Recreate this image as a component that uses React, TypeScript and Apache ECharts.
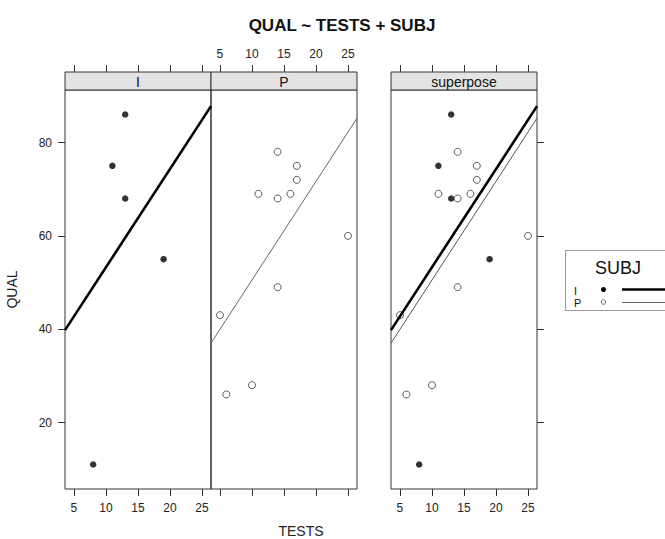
import React, { useEffect, useRef } from "react";
import * as echarts from "echarts";

// Data
const testsI = [13, 11, 13, 19, 8];
const qualI = [86, 75, 68, 55, 11];
const testsP = [14, 17, 17, 11, 14, 16, 25, 14, 5, 6, 10];
const qualP = [78, 75, 72, 69, 68, 69, 60, 49, 43, 26, 28];
// fitted lines (endpoints at the panel limits)
const fitX = [3.6, 26.4];
const fitI = [39.8, 87.8];
const fitP = [37, 85.2];
const xTicks = [5, 10, 15, 20, 25];
const yTicks = [20, 40, 60, 80];
const panelNames = ["I", "P", "superpose"];
const groups = ["I", "P"];

const FONT = "'Liberation Sans', Arial, Helvetica, sans-serif";

const zip = (a: number[], b: number[]) => a.map((v, i) => [v, b[i]]);

export default function App() {
  const ref = useRef<HTMLDivElement>(null);
  useEffect(() => {
    if (!ref.current) return;
    const chart = echarts.init(ref.current, null, { renderer: "svg" });
    const X0 = 3.6, X1 = 26.4, Y0 = 5.75, Y1 = 91.25;
    const panels = [
      { left: 65 },
      { left: 211 },
      { left: 391 },
    ];
    const W = 146, TOP = 90, H = 399, STRIP = 18;
    const grid = panels.map((p) => ({
      left: p.left, top: TOP, width: W, height: H,
      show: true, borderColor: "#333", borderWidth: 1, backgroundColor: "transparent",
      containLabel: false,
    }));
    const tickStyle = { show: true, length: 7, lineStyle: { color: "#333", width: 1 }, customValues: xTicks };
    const labelStyle = (show: boolean, margin: number, vals: number[]) => ({
      show, margin, color: "#222", fontSize: 12, fontFamily: FONT, customValues: vals,
    });
    const mkX = (gi: number, position: string, showLabel: boolean) => ({
      type: "value", gridIndex: gi, position, min: X0, max: X1,
      offset: position === "top" ? STRIP : 0,
      axisLine: { show: false },
      axisTick: tickStyle,
      axisLabel: labelStyle(showLabel, position === "top" ? 12 : 13, xTicks),
      splitLine: { show: false },
    });
    const xAxis = [
      mkX(0, "bottom", true), mkX(0, "top", false),
      mkX(1, "bottom", false), mkX(1, "top", true),
      mkX(2, "bottom", true), mkX(2, "top", false),
    ];
    const yTick = { show: true, length: 7, lineStyle: { color: "#333", width: 1 }, customValues: yTicks };
    const yAxis = [
      {
        type: "value", gridIndex: 0, position: "left", min: Y0, max: Y1,
        axisLine: { show: false }, axisTick: yTick,
        axisLabel: labelStyle(true, 13, yTicks), splitLine: { show: false },
        name: "QUAL", nameLocation: "middle", nameGap: 46, nameRotate: 90,
        nameTextStyle: { color: "#222", fontSize: 14, fontFamily: FONT },
      },
      {
        type: "value", gridIndex: 1, min: Y0, max: Y1,
        axisLine: { show: false }, axisTick: { show: false },
        axisLabel: { show: false }, splitLine: { show: false },
      },
      {
        type: "value", gridIndex: 2, position: "right", min: Y0, max: Y1,
        axisLine: { show: false }, axisTick: yTick,
        axisLabel: { show: false }, splitLine: { show: false },
      },
    ];
    const filled = (name: string, xi: number, yi: number) => ({
      type: "scatter", name, xAxisIndex: xi, yAxisIndex: yi,
      data: zip(testsI, qualI), symbol: "circle", symbolSize: 6.5,
      itemStyle: { color: "#000" }, silent: true,
    });
    const open = (name: string, xi: number, yi: number) => ({
      type: "scatter", name, xAxisIndex: xi, yAxisIndex: yi,
      data: zip(testsP, qualP), symbol: "circle", symbolSize: 7,
      itemStyle: { color: "#fff", borderColor: "#333", borderWidth: 1 }, silent: true,
    });
    const fitLine = (name: string, ys: number[], xi: number, yi: number, w: number, c: string) => ({
      type: "line", name, xAxisIndex: xi, yAxisIndex: yi, data: zip(fitX, ys),
      showSymbol: false, symbol: "none", clip: true,
      lineStyle: { color: c, width: w }, silent: true,
    });
    const series = [
      filled("I", 0, 0), fitLine("I fit", fitI, 0, 0, 2.6, "#000"),
      open("P", 2, 1), fitLine("P fit", fitP, 2, 1, 1, "#666"),
      filled("I", 4, 2), fitLine("I fit", fitI, 4, 2, 2.6, "#000"),
      open("P", 4, 2), fitLine("P fit", fitP, 4, 2, 1, "#555"),
    ];
    const strips: any[] = [];
    panels.forEach((p, i) => {
      strips.push({
        type: "rect", shape: { x: p.left, y: TOP - STRIP, width: W, height: STRIP },
        style: { fill: "#e3e3e3", stroke: "#333", lineWidth: 1 }, z: 10,
      });
      strips.push({
        type: "text", x: p.left + W / 2, y: TOP - STRIP / 2 + 0.5, z: 11,
        style: { text: panelNames[i], fontSize: 14, fontFamily: FONT, fill: "#111", align: "center", verticalAlign: "middle" },
      });
    });
    const legend: any[] = [
      { type: "rect", shape: { x: 565.5, y: 250.5, width: 120, height: 60 }, style: { fill: "#fff", stroke: "#999", lineWidth: 1 }, z: 10 },
      { type: "text", x: 618, y: 268, z: 11, style: { text: "SUBJ", fontSize: 18, fontFamily: FONT, fill: "#111", align: "center", verticalAlign: "middle" } },
      { type: "text", x: 574, y: 290.5, z: 11, style: { text: groups[0], fontSize: 11, fontFamily: FONT, fill: "#111", align: "left", verticalAlign: "middle" } },
      { type: "text", x: 574, y: 302.5, z: 11, style: { text: groups[1], fontSize: 11, fontFamily: FONT, fill: "#111", align: "left", verticalAlign: "middle" } },
      { type: "circle", shape: { cx: 603.5, cy: 289.5, r: 2.5 }, style: { fill: "#000" }, z: 11 },
      { type: "circle", shape: { cx: 603.5, cy: 302, r: 2.2 }, style: { fill: "#fff", stroke: "#555", lineWidth: 1 }, z: 11 },
      { type: "line", shape: { x1: 622, y1: 289.5, x2: 670, y2: 289.5 }, style: { stroke: "#000", lineWidth: 2.6 }, z: 11 },
      { type: "line", shape: { x1: 622, y1: 302.5, x2: 670, y2: 302.5 }, style: { stroke: "#666", lineWidth: 1 }, z: 11 },
      { type: "text", x: 301, y: 531, z: 11, style: { text: "TESTS", fontSize: 14, fontFamily: FONT, fill: "#222", align: "center", verticalAlign: "middle" } },
    ];
    chart.setOption({
      animation: false,
      backgroundColor: "#fff",
      title: {
        text: "QUAL ~ TESTS + SUBJ", left: 337, top: 12, textAlign: "center",
        textStyle: { fontSize: 17, fontWeight: "bold", fontFamily: FONT, color: "#111" },
      },
      grid, xAxis, yAxis, series,
      graphic: [...strips, ...legend],
    });
    return () => chart.dispose();
  }, []);
  return (
    <div
      ref={ref}
      style={{ position: "fixed", left: 0, top: 0, width: 665, height: 539, background: "#fff" }}
    />
  );
}
